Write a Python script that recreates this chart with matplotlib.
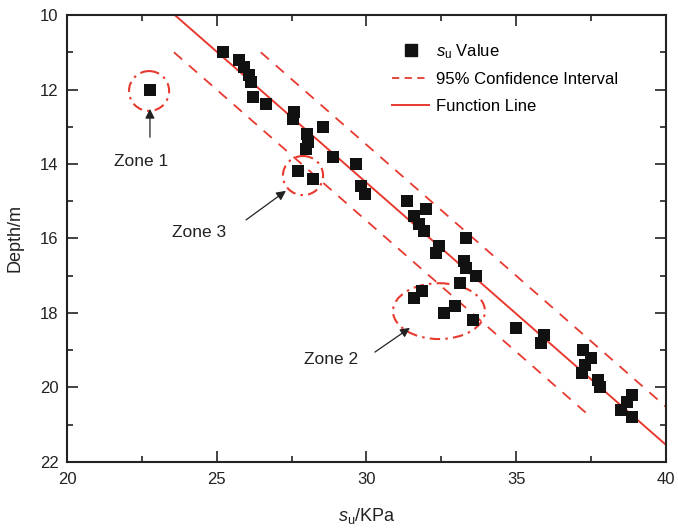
import numpy as np
import matplotlib
matplotlib.use("Agg")
import matplotlib.pyplot as plt
from matplotlib.patches import Ellipse
from matplotlib.lines import Line2D

plt.rcParams['font.family'] = ['Liberation Sans', 'DejaVu Sans']
plt.rcParams['mathtext.fontset'] = 'custom'
plt.rcParams['mathtext.rm'] = 'Liberation Sans'
plt.rcParams['mathtext.it'] = 'Liberation Sans:italic'

# Undrained shear strength (kPa) against depth (m)
su_values = [22.77, 25.22, 25.74, 25.92, 26.09, 26.13, 26.22, 26.63, 27.59, 27.56,
             28.56, 28.00, 28.06, 27.97, 28.87, 29.65, 27.71, 28.20, 29.83, 29.95,
             31.35, 31.99, 31.57, 31.74, 31.92, 33.33, 32.42, 32.31, 33.26, 33.33,
             33.66, 33.12, 31.84, 31.58, 32.96, 32.58, 33.57, 34.99, 35.93, 35.83,
             37.22, 37.49, 37.31, 37.19, 37.74, 37.80, 38.87, 38.69, 38.49, 38.87]
depth_values = [12.0, 11.0, 11.2, 11.4, 11.6, 11.8, 12.2, 12.4, 12.6, 12.8,
                13.0, 13.2, 13.4, 13.6, 13.8, 14.0, 14.2, 14.4, 14.6, 14.8,
                15.0, 15.2, 15.4, 15.6, 15.8, 16.0, 16.2, 16.4, 16.6, 16.8,
                17.0, 17.2, 17.4, 17.6, 17.8, 18.0, 18.2, 18.4, 18.6, 18.8,
                19.0, 19.2, 19.4, 19.6, 19.8, 20.0, 20.2, 20.4, 20.6, 20.8]

# Fitted line: depth = fit_d0 + fit_slope * (su - fit_su0)
fit_su0 = 23.6
fit_d0 = 10.0
fit_slope = 0.7037
ci_offset = 1.45          # kPa shift of the 95% bounds
ci_depth_range = [11.0, 20.7]

fig = plt.figure(figsize=(6.78, 5.29), dpi=100)
ax = fig.add_axes([0.0988, 0.1267, 0.8835, 0.8449])

red = '#e8392f'

su_line = np.array([fit_su0, 40.0])
ax.plot(su_line, fit_d0 + fit_slope * (su_line - fit_su0), color=red, lw=1.4,
        zorder=2)

d_ci = np.array(ci_depth_range)
su_center = fit_su0 + (d_ci - fit_d0) / fit_slope
for sgn in (-1, 1):
    su_b = su_center + sgn * ci_offset
    d_b = d_ci.copy()
    if su_b[1] > 40:
        su_b[1] = 40.0
        d_b[1] = fit_d0 + fit_slope * (40.0 - sgn * ci_offset - fit_su0)
    ax.plot(su_b, d_b, color=red, lw=1.3, ls=(0, (6, 5)), zorder=2)

ax.scatter(su_values, depth_values, marker='s', s=80, color='#111111',
           zorder=3, linewidths=0)

# Highlighted zones
zones = [
    dict(c=(22.74, 12.04), w=1.34, h=1.07, text='Zone 1', tp=(22.49, 13.92),
         tail=(22.77, 13.28), head=(22.77, 12.52)),
    dict(c=(27.88, 14.31), w=1.34, h=1.05, text='Zone 3', tp=(24.41, 15.85),
         tail=(25.98, 15.50), head=(27.31, 14.72)),
    dict(c=(32.42, 17.95), w=3.07, h=1.50, text='Zone 2', tp=(28.81, 19.26),
         tail=(30.28, 19.05), head=(31.45, 18.40)),
]
for z in zones:
    ax.add_patch(Ellipse(z['c'], z['w'], z['h'], fill=False, edgecolor=red,
                         lw=1.5, ls=(0, (5, 2.5, 1.2, 2.5)), zorder=2))
    ax.text(*z['tp'], z['text'], fontsize=12.5, ha='center', va='center',
            color='#222222')
    ax.annotate('', xy=z['head'], xytext=z['tail'],
                arrowprops=dict(arrowstyle='-|>', color='#222222', lw=0.9,
                                mutation_scale=14, shrinkA=0, shrinkB=0))

ax.set_xlim(20, 40)
ax.set_ylim(22, 10)
ax.set_xticks([20, 25, 30, 35, 40])
ax.set_yticks([10, 12, 14, 16, 18, 20, 22])
ax.set_xticks(np.arange(22.5, 40, 5), minor=True)
ax.set_yticks(np.arange(11, 22, 2), minor=True)
ax.tick_params(which='both', direction='in', top=True, right=True,
               labelsize=12, colors='#222222', width=1.2)
ax.tick_params(which='major', length=8)
ax.tick_params(which='minor', length=4)
ax.tick_params(axis='x', which='major', pad=7)
ax.tick_params(axis='y', which='major', pad=6)
for sp in ax.spines.values():
    sp.set_linewidth(1.5)
    sp.set_color('#222222')

ax.set_xlabel(r'$s_{\mathrm{u}}$/KPa', fontsize=13, color='#222222', labelpad=14)
ax.set_ylabel('Depth/m', fontsize=13, color='#222222', labelpad=12)

handles = [
    Line2D([], [], marker='s', ls='none', color='#111111', markersize=8),
    Line2D([], [], color=red, lw=1.3, ls=(0, (4, 3))),
    Line2D([], [], color=red, lw=1.4),
]
labels = [r'$s_{\mathrm{u}}$ Value', '95% Confidence Interval', 'Function Line']
ax.legend(handles, labels, loc='upper left', bbox_to_anchor=(0.532, 0.955),
          frameon=False, fontsize=12, handlelength=2.2, handletextpad=0.4,
          labelspacing=0.7, borderaxespad=0)

fig.savefig('out.png', dpi=100)
